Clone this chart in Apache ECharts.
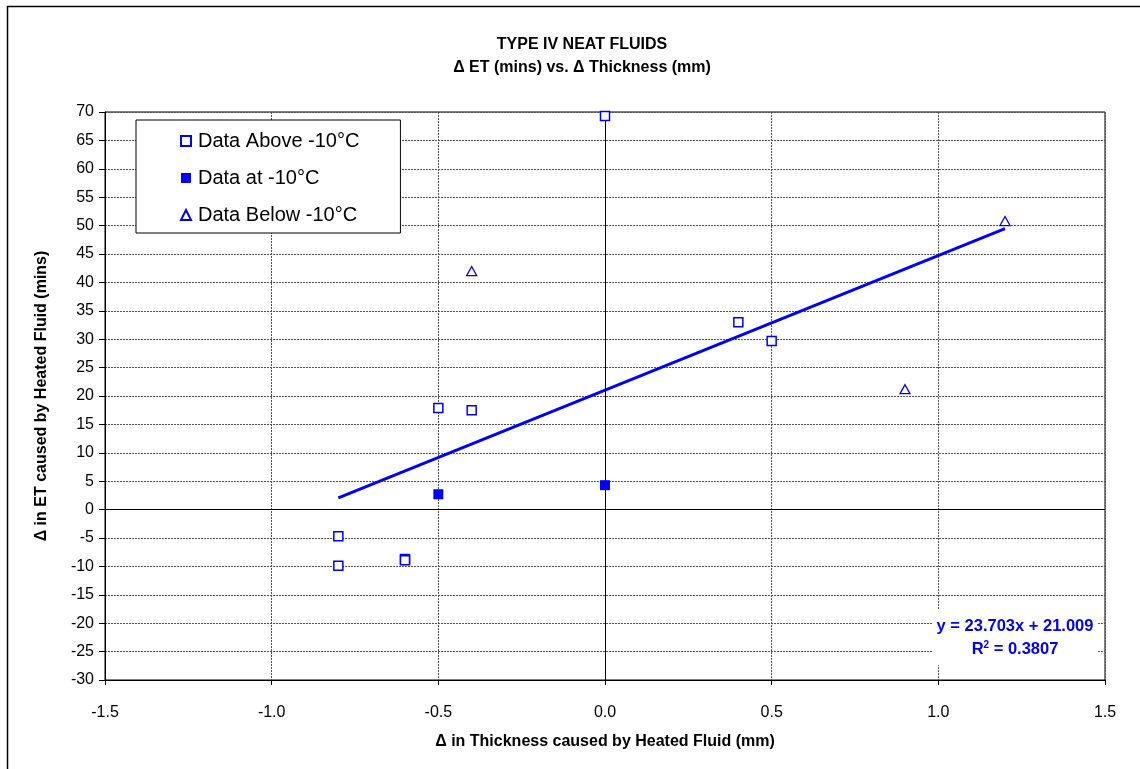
<!DOCTYPE html>
<html>
<head>
<meta charset="utf-8">
<title>TYPE IV NEAT FLUIDS</title>
<script src="https://cdn.jsdelivr.net/npm/echarts@6/dist/echarts.min.js"></script>
<style>
  html, body { margin: 0; padding: 0; background: #fff; }
  #chart { width: 1140px; height: 769px; }
</style>
</head>
<body>
<div id="chart"></div>
<script>
// Change in endurance time vs. change in fluid thickness, Type IV neat fluids
const aboveX = [0.0, 0.4, 0.5, -0.5, -0.4, -0.8, -0.8, -0.6, -0.6];
const aboveY = [69.3, 33.0, 29.7, 17.9, 17.5, -4.7, -9.9, -8.7, -8.9];
const atX = [-0.5, 0.0];
const atY = [2.7, 4.3];
const belowX = [-0.4, 0.9, 1.2];
const belowY = [42.0, 21.2, 50.8];

// Linear fit over all points
const slope = 23.703;
const intercept = 21.009;
const rSquared = 0.3807;
const fitRange = [-0.8, 1.2];

const seriesNames = ['Data Above -10°C', 'Data at -10°C', 'Data Below -10°C'];
const xTicks = { min: -1.5, max: 1.5, step: 0.5 };
const yTicks = { min: -30, max: 70, step: 5 };

const BLUE = '#0000FF';
const FONT = "'Liberation Sans', Arial, sans-serif";

const pairs = (xs, ys) => xs.map((x, i) => [x, ys[i]]);
const fitLine = fitRange.map(x => [x, slope * x + intercept]);

const chart = echarts.init(document.getElementById('chart'), null, { renderer: 'canvas' });

const gridLine = { show: true, lineStyle: { color: '#555', type: [2, 1], width: 1 } };

chart.setOption({
  animation: false,
  backgroundColor: '#fff',
  textStyle: { fontFamily: FONT },
  title: {
    text: 'TYPE IV NEAT FLUIDS\nΔ ET (mins) vs. Δ Thickness (mm)',
    left: 577,
    top: 28,
    textAlign: 'center',
    textStyle: { fontFamily: FONT, fontSize: 16, fontWeight: 'bold', color: '#000', lineHeight: 23 }
  },
  grid: {
    left: 105, top: 112, width: 1000, height: 568,
    show: true, borderColor: '#000', borderWidth: 1, backgroundColor: '#fff'
  },
  legend: {
    data: seriesNames,
    orient: 'vertical',
    left: 136,
    top: 120,
    padding: [11, 41, 8, 44],
    itemGap: 17,
    itemWidth: 10,
    itemHeight: 10,
    backgroundColor: '#fff',
    borderColor: '#000',
    borderWidth: 1,
    textStyle: { fontFamily: FONT, fontSize: 20, color: '#000', lineHeight: 20, padding: [0, 0, 0, 2] }
  },
  xAxis: {
    type: 'value',
    min: xTicks.min, max: xTicks.max, interval: xTicks.step,
    name: 'Δ in Thickness caused by Heated Fluid (mm)',
    nameLocation: 'middle',
    nameGap: 54,
    nameTextStyle: { fontFamily: FONT, fontSize: 16, fontWeight: 'bold', color: '#000' },
    axisLine: { show: true, onZero: false, lineStyle: { color: '#000', width: 1 } },
    axisTick: { show: true, inside: false, length: 5, lineStyle: { color: '#000' } },
    axisLabel: {
      fontFamily: FONT, fontSize: 16, color: '#000', margin: 25,
      formatter: v => v.toFixed(1)
    },
    splitLine: gridLine
  },
  yAxis: {
    type: 'value',
    min: yTicks.min, max: yTicks.max, interval: yTicks.step,
    name: 'Δ in ET caused by Heated Fluid (mins)',
    nameLocation: 'middle',
    nameGap: 55,
    nameRotate: 90,
    nameTextStyle: { fontFamily: FONT, fontSize: 16, fontWeight: 'bold', color: '#000' },
    axisLine: { show: true, onZero: false, lineStyle: { color: '#000', width: 1 } },
    axisTick: { show: true, inside: false, length: 6, lineStyle: { color: '#000' } },
    axisLabel: { fontFamily: FONT, fontSize: 16, color: '#000', margin: 11 },
    splitLine: gridLine
  },
  series: [
    {
      name: 'fit',
      type: 'line',
      data: fitLine,
      showSymbol: false,
      symbol: 'none',
      lineStyle: { color: BLUE, width: 3 },
      silent: true,
      z: 2,
      markLine: {
        silent: true,
        symbol: 'none',
        label: { show: false },
        lineStyle: { color: '#000', type: 'solid', width: 1 },
        data: [{ yAxis: 0 }, { xAxis: 0 }],
        z: 1
      }
    },
    {
      name: seriesNames[0],
      type: 'scatter',
      data: pairs(aboveX, aboveY),
      symbol: 'rect',
      symbolSize: 9,
      itemStyle: { color: '#fff', borderColor: BLUE, borderWidth: 1.5, opacity: 1 },
      z: 3
    },
    {
      name: seriesNames[1],
      type: 'scatter',
      data: pairs(atX, atY),
      symbol: 'rect',
      symbolSize: 10,
      itemStyle: { color: BLUE, borderColor: BLUE, borderWidth: 0, opacity: 1 },
      z: 3
    },
    {
      name: seriesNames[2],
      type: 'scatter',
      data: pairs(belowX, belowY),
      symbol: 'triangle',
      symbolSize: [10, 9],
      itemStyle: { color: '#fff', borderColor: BLUE, borderWidth: 1.3, opacity: 1 },
      z: 3
    }
  ],
  graphic: [
    {
      type: 'rect',
      shape: { x: 7.5, y: 6.5, width: 1200, height: 900 },
      style: { fill: 'none', stroke: '#000', lineWidth: 1.5 },
      silent: true,
      z: 100
    },
    {
      type: 'rect',
      shape: { x: 933, y: 609, width: 164, height: 56 },
      style: { fill: '#fff' },
      silent: true,
      z: 90
    },
    {
      type: 'text',
      x: 1015, y: 626,
      z: 91,
      style: {
        text: 'y = ' + slope.toFixed(3) + 'x + ' + intercept.toFixed(3),
        fill: BLUE, font: 'bold 16.5px ' + FONT, align: 'center', verticalAlign: 'middle'
      }
    },
    {
      type: 'text',
      x: 1015, y: 649,
      z: 91,
      style: {
        text: 'R{sup|2} = ' + rSquared.toFixed(4),
        fill: BLUE, font: 'bold 16.5px ' + FONT, align: 'center', verticalAlign: 'middle',
        rich: { sup: { fill: BLUE, font: 'bold 10px ' + FONT, verticalAlign: 'top', padding: [0, 0, 8, 0] } }
      }
    }
  ]
});
</script>
</body>
</html>
